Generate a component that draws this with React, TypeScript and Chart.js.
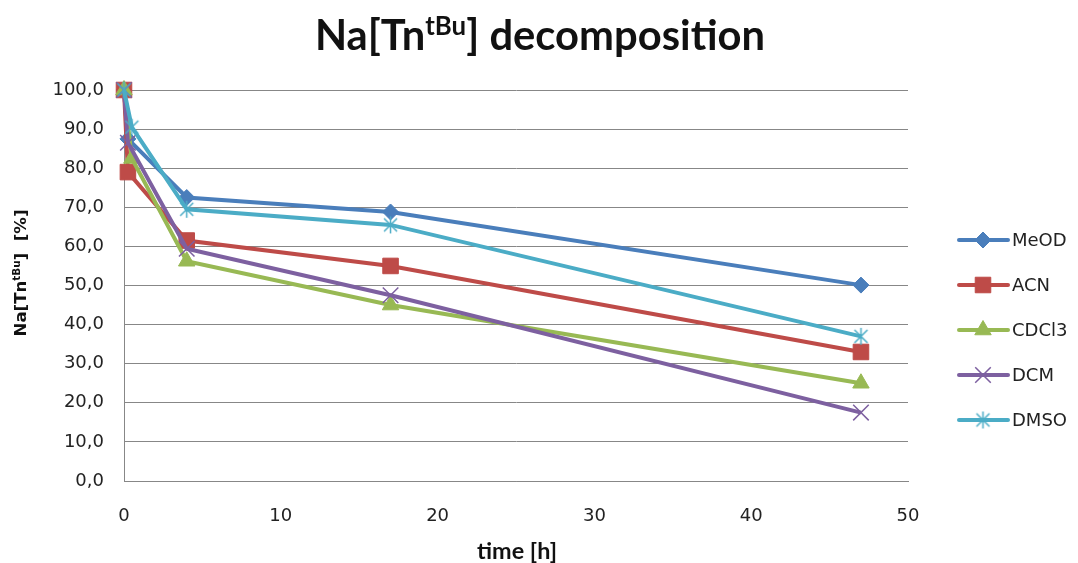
import React, { useEffect, useRef } from 'react';
import { Chart, registerables, PointElement } from 'chart.js';

Chart.register(...registerables);

// ---- data ----
const seriesNames = ['MeOD', 'ACN', 'CDCl3', 'DCM', 'DMSO'];
const hoursMeOD = [0, 0.25, 4, 17, 47];
const hoursACN = [0, 0.25, 4, 17, 47];
const hoursCDCl3 = [0, 0.5, 4, 17, 47];
const hoursDCM = [0, 0.25, 4, 17, 47];
const hoursDMSO = [0, 0.5, 4, 17, 47];
const valuesMeOD = [100, 87.5, 72.5, 68.8, 50.1];
const valuesACN = [100, 79.0, 61.5, 55.0, 33.0];
const valuesCDCl3 = [100, 82.5, 56.2, 45.0, 25.0];
const valuesDCM = [100, 86.5, 59.4, 47.5, 17.5];
const valuesDMSO = [100, 90.5, 69.5, 65.5, 37.0];
const xMin = 0;
const xMax = 50;
const xStep = 10;
const yMin = 0;
const yMax = 100;
const yStep = 10;
const titleMain = 'Na[Tn';
const titleSup = 'tBu';
const titleRest = '] decomposition';
const xTitle = 'time [h]';
const yTitleMain = 'Na[Tn';
const yTitleSup = 'tBu';
const yTitleRest = ']  [%]';

const colors = ['#4A7EBB', '#BE4B48', '#98B954', '#7D60A0', '#4BACC6'];

function makeAsterisk(color: string): HTMLCanvasElement {
  const c = document.createElement('canvas');
  c.width = 19;
  c.height = 19;
  const g = c.getContext('2d')!;
  g.strokeStyle = color;
  g.lineWidth = 1.5;
  g.beginPath();
  g.moveTo(3, 3); g.lineTo(16, 16);
  g.moveTo(16, 3); g.lineTo(3, 16);
  g.moveTo(9.5, 1); g.lineTo(9.5, 18);
  g.stroke();
  return c;
}

function drawRich(
  ctx: CanvasRenderingContext2D,
  parts: { t: string; sup: boolean }[],
  cx: number,
  baseY: number,
  size: number,
  family: string,
  targetWidth: number,
  rotation: number,
  color: string
) {
  const mainFont = `bold ${size}px ${family}`;
  const supFont = `bold ${Math.round(size * 0.62)}px ${family}`;
  let total = 0;
  const widths: number[] = [];
  for (const p of parts) {
    ctx.font = p.sup ? supFont : mainFont;
    const w = ctx.measureText(p.t).width;
    widths.push(w);
    total += w;
  }
  const s = targetWidth / total;
  ctx.save();
  ctx.translate(cx, baseY);
  ctx.rotate(rotation);
  ctx.scale(s, 1);
  ctx.fillStyle = color;
  ctx.textBaseline = 'alphabetic';
  ctx.textAlign = 'left';
  let x = -total / 2;
  parts.forEach((p, i) => {
    ctx.font = p.sup ? supFont : mainFont;
    ctx.fillText(p.t, x, p.sup ? -size * 0.36 : 0);
    x += widths[i];
  });
  ctx.restore();
}

const decorPlugin = {
  id: 'decor',
  afterDraw(chart: any) {
    const ctx: CanvasRenderingContext2D = chart.ctx;
    // title
    drawRich(
      ctx,
      [
        { t: titleMain, sup: false },
        { t: titleSup, sup: true },
        { t: titleRest, sup: false },
      ],
      540, 50, 42, 'Lato', 450, 0, '#111'
    );
    // x title
    drawRich(ctx, [{ t: xTitle, sup: false }], 517, 559, 23, 'Lato', 80, 0, '#111');
    // y title
    drawRich(
      ctx,
      [
        { t: yTitleMain, sup: false },
        { t: yTitleSup, sup: true },
        { t: yTitleRest, sup: false },
      ],
      26, 273, 16, '"DejaVu Sans"', 127, -Math.PI / 2, '#111'
    );
    // legend
    const bigArea = { left: -1e4, top: -1e4, right: 1e4, bottom: 1e4 };
    chart.data.datasets.forEach((ds: any, i: number) => {
      const y = 240 + 45 * i;
      ctx.save();
      ctx.strokeStyle = ds.borderColor;
      ctx.lineWidth = 4;
      ctx.lineCap = 'round';
      ctx.beginPath();
      ctx.moveTo(959, y);
      ctx.lineTo(1008, y);
      ctx.stroke();
      ctx.restore();
      const meta = chart.getDatasetMeta(i);
      const opts = meta.data[0].options;
      const pe: any = new (PointElement as any)({ x: 983, y, options: opts });
      ctx.save();
      pe.draw(ctx, bigArea);
      ctx.restore();
      ctx.save();
      ctx.font = '18px "DejaVu Sans"';
      ctx.fillStyle = '#222';
      ctx.textBaseline = 'middle';
      ctx.textAlign = 'left';
      ctx.fillText(seriesNames[i], 1012, y + 1);
      ctx.restore();
    });
  },
};

export default function App() {
  const ref = useRef<HTMLCanvasElement>(null);
  useEffect(() => {
    document.body.style.margin = '0';
    document.body.style.overflow = 'hidden';
    const hours = [hoursMeOD, hoursACN, hoursCDCl3, hoursDCM, hoursDMSO];
    const values = [valuesMeOD, valuesACN, valuesCDCl3, valuesDCM, valuesDMSO];
    const styles: any[] = ['rectRot', 'rect', 'triangle', 'crossRot', makeAsterisk(colors[4])];
    const radii = [8, 11, 9.5, 11, 9];
    const bw = [1, 1, 1, 1.5, 1.5];
    const datasets = seriesNames.map((name, i) => ({
      label: name,
      data: hours[i].map((h, k) => ({ x: h, y: values[i][k] })),
      borderColor: colors[i],
      backgroundColor: colors[i],
      borderWidth: 4,
      pointStyle: styles[i],
      pointRadius: radii[i],
      pointBorderWidth: bw[i],
      pointBackgroundColor: colors[i],
      pointBorderColor: colors[i],
      tension: 0,
      clip: false,
      order: seriesNames.length - i,
    }));
    const chart = new Chart(ref.current!, {
      type: 'line',
      data: { datasets },
      options: {
        responsive: false,
        animation: false,
        devicePixelRatio: 1,
        layout: { padding: { top: 90, right: 170, bottom: 0, left: 0 } },
        plugins: { legend: { display: false }, title: { display: false }, tooltip: { enabled: false } },
        scales: {
          x: {
            type: 'linear',
            min: xMin,
            max: xMax,
            afterFit: (s: any) => { s.height = 82; },
            grid: { display: false, drawTicks: false },
            border: { display: true, color: '#878787', width: 1 },
            ticks: {
              stepSize: xStep,
              padding: 25,
              color: '#222',
              font: { family: '"DejaVu Sans"', size: 18 },
            },
          },
          y: {
            type: 'linear',
            min: yMin,
            max: yMax,
            afterFit: (s: any) => { s.width = 124; },
            grid: { color: '#878787', lineWidth: 1, drawTicks: false },
            border: { display: true, color: '#878787', width: 1 },
            ticks: {
              stepSize: yStep,
              padding: 20,
              color: '#222',
              font: { family: '"DejaVu Sans"', size: 18 },
              callback: (v: any) => Number(v).toFixed(1).replace('.', ','),
            },
          },
        },
      },
      plugins: [decorPlugin],
    });
    return () => chart.destroy();
  }, []);
  return (
    <div style={{ width: 1078, height: 563, background: '#fff' }}>
      <canvas ref={ref} width={1078} height={563} />
    </div>
  );
}
